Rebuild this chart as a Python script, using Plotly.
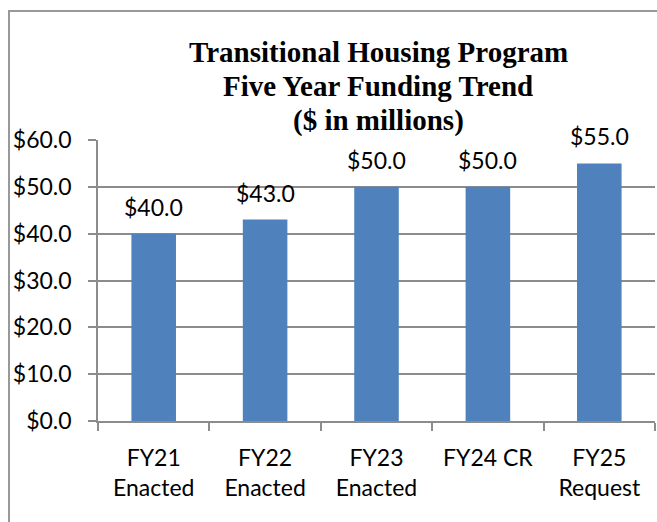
import plotly.graph_objects as go

categories = ["FY21<br>Enacted", "FY22<br>Enacted", "FY23<br>Enacted", "FY24 CR", "FY25<br>Request"]
values = [40.0, 43.0, 50.0, 50.0, 55.0]
title_lines = ["Transitional Housing Program", "Five Year Funding Trend", "($ in millions)"]
tick_vals = [0, 10, 20, 30, 40, 50, 60]
tick_text = ["$%.1f" % v for v in tick_vals]

W, H = 657, 522
ML, MR, MT, MB = 98, 2, 140, 101
PW, PH = W - ML - MR, H - MT - MB

def px_x(x):
    return (x - ML) / PW

def px_y(y):
    return (H - MB - y) / PH

GRAY = "#8c8c8c"
FONT = "Lato, Calibri, sans-serif"
FS = 23

fig = go.Figure()
fig.add_trace(go.Bar(
    x=categories, y=values,
    marker=dict(color="#4F81BD", line=dict(width=0)),
    hoverinfo="skip",
))

annotations = []
for c, v in zip(categories, values):
    annotations.append(dict(
        x=c, y=v, xref="x", yref="y", text="$%.1f" % v, showarrow=False,
        yanchor="middle", yshift=27, font=dict(family=FONT, size=FS, color="#000000"),
    ))

title_centers = [52, 86, 120]
for t, yc in zip(title_lines, title_centers):
    annotations.append(dict(
        x=px_x(378), y=px_y(yc), xref="paper", yref="paper", text="<b>%s</b>" % t,
        showarrow=False, xanchor="center", yanchor="middle",
        font=dict(family="Liberation Serif, Times New Roman, serif", size=29, color="#000000"),
    ))

fig.update_layout(
    width=W, height=H,
    margin=dict(l=ML, r=MR, t=MT, b=MB),
    paper_bgcolor="white", plot_bgcolor="white",
    showlegend=False,
    bargap=0.6,
    annotations=annotations,
    shapes=[dict(
        type="rect", xref="paper", yref="paper",
        x0=px_x(9), x1=px_x(665), y0=px_y(530), y1=px_y(11),
        line=dict(color="#999999", width=2), fillcolor="rgba(0,0,0,0)", layer="below",
    )],
    xaxis=dict(
        showline=True, linecolor=GRAY, linewidth=1.5,
        ticks="outside", tickson="boundaries", ticklen=8, tickcolor=GRAY, tickwidth=1.5,
        ticklabelstandoff=16,
        tickfont=dict(family=FONT, size=FS, color="#000000"),
        showgrid=False, fixedrange=True,
    ),
    yaxis=dict(
        range=[0, 60], tickvals=tick_vals, ticktext=tick_text,
        showline=True, linecolor=GRAY, linewidth=1.5,
        ticks="outside", ticklen=8, tickcolor=GRAY, tickwidth=1.5,
        ticklabelstandoff=12,
        showgrid=True, gridcolor=GRAY, gridwidth=1.5,
        zeroline=False,
        tickfont=dict(family=FONT, size=FS, color="#000000"),
        fixedrange=True,
    ),
)

fig.write_html(
    "out.html",
    config={"displayModeBar": False},
    post_script="document.body.style.margin='0';document.body.style.overflow='hidden';",
)
